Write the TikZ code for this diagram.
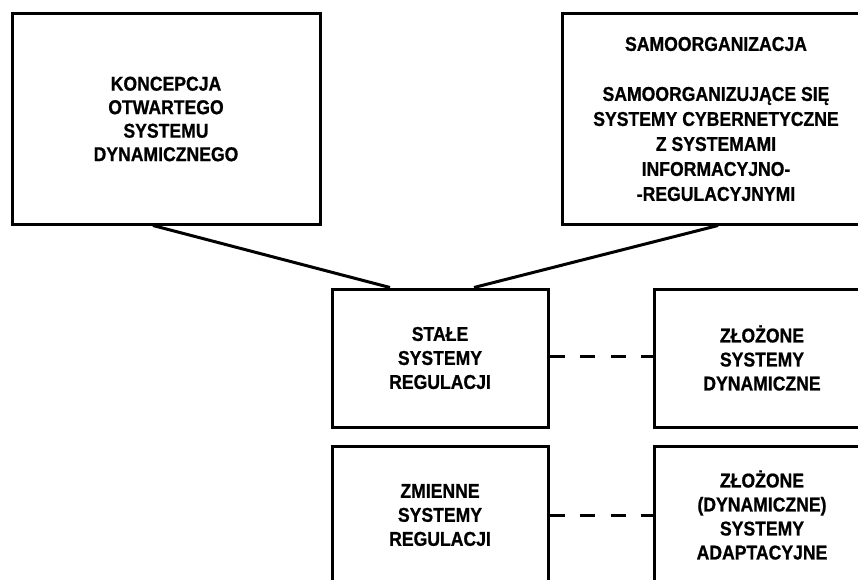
\documentclass[tikz,border=0pt]{standalone}
\usepackage{fontspec}
\setmainfont{Liberation Sans}[FakeStretch=0.88,BoldFeatures={FakeBold=0.8}]
\begin{document}
\begin{tikzpicture}[x=1pt,y=-1pt,
  box/.style={draw=black,line width=3pt,rectangle,inner sep=0pt,align=center,
    font=\bfseries\fontsize{20}{23.5}\selectfont},
  bigbox/.style={box,minimum width=308pt,minimum height=210pt},
  smallbox/.style={box,minimum width=216pt,minimum height=138pt,font=\bfseries\fontsize{20}{24}\selectfont},
  link/.style={draw=black,line width=3pt},
  dlink/.style={draw=black,line width=3pt,dash pattern=on 15pt off 15.5pt}]
\useasboundingbox (0,0) rectangle (858,580);
\clip (0,0) rectangle (858,580);
\fill[white] (0,0) rectangle (858,580);
\node[bigbox] (b1) at (166,119) {KONCEPCJA\\OTWARTEGO\\SYSTEMU\\DYNAMICZNEGO};
\node[bigbox,font=\bfseries\fontsize{20}{25}\selectfont] (b2) at (716,119)
  {SAMOORGANIZACJA\\[25pt]SAMOORGANIZUJĄCE SIĘ\\SYSTEMY CYBERNETYCZNE\\Z SYSTEMAMI\\INFORMACYJNO-\\-REGULACYJNYMI};
\node[smallbox] (b3) at (440,358) {STAŁE\\SYSTEMY\\REGULACJI};
\node[smallbox] (b4) at (762,358) {ZŁOŻONE\\SYSTEMY\\DYNAMICZNE};
\node[smallbox] (b5) at (440,515) {ZMIENNE\\SYSTEMY\\REGULACJI};
\node[smallbox] (b6) at (762,515) {ZŁOŻONE\\(DYNAMICZNE)\\SYSTEMY\\ADAPTACYJNE};
\draw[link] ([xshift=-13pt]b1.south) -- ([xshift=-50pt]b3.north);
\draw[link] ([xshift=2pt]b2.south) -- ([xshift=34pt]b3.north);
\draw[dlink] ([yshift=2pt]b3.east) -- ([yshift=2pt]b4.west);
\draw[dlink] (b5.east) -- (b6.west);
\end{tikzpicture}
\end{document}
